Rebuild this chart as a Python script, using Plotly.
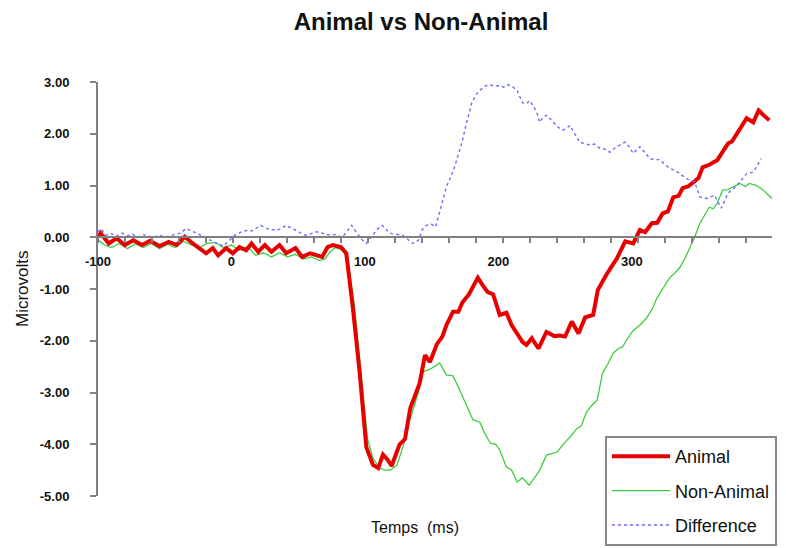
import plotly.graph_objects as go

title_text = "Animal vs Non-Animal"
x_title = "Temps\u00a0 (ms)"
y_title = "Microvolts"

y_tick_vals = [-5, -4, -3, -2, -1, 0, 1, 2, 3]
y_tick_text = ["-5.00", "-4.00", "-3.00", "-2.00", "-1.00", "0.00", "1.00", "2.00", "3.00"]
x_tick_vals = [-100, 0, 100, 200, 300]
x_tick_text = ["-100", "0", "100", "200", "300"]

# (time ms, microvolts)
animal = [(-100, 0.0), (-98, 0.08), (-92, -0.12), (-86, -0.02), (-80, -0.15), (-73.5, -0.06), (-67, -0.15),
          (-61, -0.07), (-54, -0.17), (-47, -0.09), (-41, -0.15), (-35, 0.01), (-29, -0.12), (-24, -0.22),
          (-19, -0.31), (-14, -0.21), (-10, -0.35), (-4, -0.21), (1, -0.31), (6, -0.19), (11, -0.25),
          (15, -0.12), (20, -0.28), (25, -0.15), (30, -0.28), (36, -0.15), (41, -0.31), (48, -0.21),
          (53, -0.38), (59, -0.31), (64, -0.35), (68, -0.38), (72, -0.19), (76, -0.15), (82, -0.19),
          (86, -0.31), (91, -1.37), (96, -2.6), (101, -4.05), (106, -4.4), (110, -4.46), (113.5, -4.2),
          (117, -4.3), (120, -4.42), (126, -4.0), (130, -3.9), (134, -3.3), (141, -2.82), (145, -2.28),
          (148.7, -2.41), (154, -2.06), (158, -1.92), (161, -1.7), (166, -1.44), (170, -1.44), (173, -1.26),
          (178, -1.1), (184.6, -0.78), (188, -0.92), (192, -1.06), (196, -1.1), (201, -1.5), (206, -1.46),
          (210, -1.7), (214, -1.86), (218, -2.02), (221, -2.08), (225, -1.95), (230, -2.15), (236, -1.83),
          (242, -1.91), (246, -1.9), (250, -1.92), (255, -1.63), (260, -1.86), (265, -1.55), (271, -1.5),
          (274.5, -1.02), (281, -0.72), (286, -0.5), (289, -0.4), (295, -0.08), (301, -0.12), (306, 0.14),
          (310, 0.1), (315, 0.27), (319, 0.28), (323, 0.46), (327, 0.5), (331, 0.77), (335, 0.8),
          (338, 0.95), (342, 0.98), (346, 1.06), (350, 1.15), (353, 1.35), (358, 1.4), (364, 1.49),
          (368, 1.65), (372, 1.81), (375, 1.85), (378.6, 2.0), (382, 2.15), (386, 2.3), (391, 2.22),
          (395, 2.45), (399, 2.35), (403, 2.26)]

non_animal = [(-100, -0.05), (-95, -0.15), (-90, -0.2), (-84, -0.12), (-78, -0.22), (-72, -0.13), (-66, -0.2),
              (-60, -0.12), (-54, -0.22), (-48, -0.14), (-42, -0.2), (-36, -0.08), (-30, -0.15), (-24, -0.2),
              (-18, -0.12), (-12, -0.1), (-6, -0.2), (0, -0.15), (6, -0.25), (12, -0.18), (18, -0.35),
              (24, -0.3), (30, -0.38), (36, -0.3), (42, -0.38), (48, -0.33), (54, -0.42), (60, -0.38),
              (66, -0.45), (70, -0.42), (74, -0.28), (78, -0.2), (83, -0.25), (87, -0.4), (92, -1.3),
              (97, -2.6), (102, -3.9), (106, -4.27), (111, -4.46), (115, -4.5), (119, -4.5), (124, -4.4),
              (128.5, -4.05), (134, -3.5), (140, -3.0), (143.5, -2.6), (148.7, -2.55), (152, -2.5),
              (156, -2.43), (161, -2.66), (166, -2.68), (171, -2.95), (176, -3.24), (181, -3.53),
              (186, -3.57), (190, -3.8), (194, -3.98), (198, -4.0), (201, -4.11), (206, -4.44), (210, -4.5),
              (214, -4.73), (218, -4.65), (223, -4.79), (227, -4.65), (231, -4.5), (236, -4.21), (240, -4.18),
              (244, -4.15), (250, -3.96), (254, -3.85), (259, -3.69), (262, -3.65), (266, -3.38), (270, -3.25),
              (274, -3.15), (278, -2.63), (282, -2.45), (286, -2.24), (290, -2.15), (293, -2.12), (296, -1.99),
              (301, -1.8), (306, -1.7), (311, -1.56), (315, -1.4), (318.7, -1.18), (323, -1.0), (328.7, -0.77),
              (332, -0.7), (336, -0.58), (340, -0.4), (343.6, -0.19), (347, 0.0), (351, 0.27), (355, 0.45),
              (358, 0.58), (361, 0.55), (364, 0.66), (368, 0.91), (372, 0.92), (375.6, 0.97), (381, 1.04),
              (385, 0.98), (388, 1.04), (393.6, 1.0), (398, 0.92), (405, 0.75)]

difference = [(-100, 0.1), (-98, 0.17), (-94, 0.04), (-90, 0.07), (-86, 0.02), (-82, 0.08), (-78, 0.03),
              (-74, 0.06), (-70, 0.0), (-66, 0.05), (-62, 0.02), (-58, 0.0), (-54, 0.04), (-50, 0.0),
              (-46, 0.03), (-42, 0.05), (-38, 0.08), (-34, 0.17), (-30, 0.13), (-28, 0.1), (-24, 0.05),
              (-19, -0.02), (-15, -0.08), (-11, -0.12), (-6, -0.17), (-1, -0.05), (3, 0.05), (7, 0.1),
              (11, 0.13), (15, 0.12), (19, 0.18), (22, 0.23), (26, 0.17), (30, 0.15), (34, 0.13), (38, 0.18),
              (41, 0.23), (45, 0.17), (49, 0.13), (53, 0.06), (56, 0.04), (60, 0.07), (63, 0.1), (66, 0.1),
              (70, 0.06), (74, 0.04), (78, 0.05), (83, 0.0), (87, 0.12), (90, 0.23), (94, 0.08), (98, -0.05),
              (101, -0.12), (105, 0.02), (109, 0.15), (113, 0.23), (117, 0.12), (120, 0.07), (124, 0.06),
              (128, 0.04), (132, -0.04), (136, -0.12), (140, -0.06), (143, 0.15), (146, 0.23), (150, 0.25),
              (153, 0.2), (155, 0.4), (158, 0.7), (161, 0.97), (164, 1.15), (167, 1.35), (170, 1.6),
              (172.5, 1.81), (176, 2.2), (180, 2.59), (183, 2.75), (186, 2.84), (190, 2.92), (193.6, 2.95),
              (197, 2.92), (201, 2.93), (204, 2.9), (207, 2.95), (211, 2.9), (214, 2.84), (218, 2.6),
              (221, 2.58), (223.6, 2.64), (227, 2.5), (229, 2.39), (231, 2.22), (233, 2.3), (236, 2.36),
              (239, 2.28), (242, 2.2), (245, 2.12), (248, 2.07), (251, 2.1), (253.6, 2.16), (257, 2.0),
              (261, 1.83), (264, 1.82), (268.5, 1.78), (272, 1.8), (276, 1.72), (280, 1.7), (283.5, 1.64),
              (287, 1.72), (291, 1.78), (294.8, 1.84), (298, 1.75), (301, 1.62), (306, 1.75), (310, 1.62),
              (313.6, 1.52), (317, 1.5), (321, 1.5), (325, 1.4), (328.6, 1.33), (333, 1.28), (338, 1.2),
              (342, 1.12), (347, 1.07), (351, 0.78), (356, 0.75), (362, 0.81), (367, 0.56), (372, 0.85),
              (378, 0.98), (382, 1.1), (386, 1.23), (391, 1.26), (394, 1.4), (397, 1.52)]

FONT = "Liberation Sans, Arial, sans-serif"
AXIS_GREY = "#808080"

def xs(series):
    return [p[0] for p in series]

def ys(series):
    return [p[1] for p in series]

fig = go.Figure()
fig.add_trace(go.Scatter(x=xs(non_animal), y=ys(non_animal), mode="lines", name="Non-Animal",
                         line=dict(color="#3fcc3f", width=1.3), legendrank=2, legendgroup="b"))
fig.add_trace(go.Scatter(x=xs(animal), y=ys(animal), mode="lines", name="Animal",
                         line=dict(color="#e80000", width=4), legendrank=1, legendgroup="a"))
fig.add_trace(go.Scatter(x=xs(difference), y=ys(difference), mode="lines", name="Difference",
                         line=dict(color="#6b6bff", width=1.4, dash="dot"), legendrank=3, legendgroup="c"))

fig.update_layout(
    width=786, height=548,
    margin=dict(l=90, r=22, t=74, b=60, autoexpand=False),
    paper_bgcolor="white", plot_bgcolor="white",
    title=dict(text="<b>" + title_text + "</b>", x=413 / 786, xanchor="center", xref="container",
               y=1 - 14 / 548, yanchor="middle", yref="container",
               font=dict(family=FONT, size=24, color="#111")),
    xaxis=dict(range=[-100, 405], anchor="free", position=0.625, showline=True, linecolor=AXIS_GREY,
               linewidth=2, showgrid=False, zeroline=False, tickmode="array", tickvals=x_tick_vals,
               ticktext=x_tick_text, ticks="", ticklabelstandoff=12,
               tickfont=dict(family=FONT, size=13, color="#111", weight="bold"),
               minor=dict(ticks="outside", tickmode="linear", tick0=-100, dtick=20.22, ticklen=5,
                          tickwidth=1.5, tickcolor=AXIS_GREY, showgrid=False)),
    yaxis=dict(range=[-5, 3], showline=True, linecolor=AXIS_GREY, linewidth=2, showgrid=False,
               zeroline=False, tickmode="array", tickvals=y_tick_vals, ticktext=y_tick_text,
               ticks="outside", ticklen=6, tickwidth=1.5, tickcolor=AXIS_GREY, ticklabelstandoff=18,
               tickfont=dict(family=FONT, size=13, color="#111", weight="bold")),
    legend=dict(x=(605 - 98) / 674, y=(496 - 436) / 414, xanchor="left", yanchor="top",
                bgcolor="white", bordercolor="#888888", borderwidth=2, tracegroupgap=8, itemwidth=58,
                font=dict(family=FONT, size=18, color="#111"), entrywidth=240, entrywidthmode="pixels"),
    showlegend=True,
    annotations=[
        dict(text=y_title, xref="paper", yref="paper", x=(22 - 98) / 674, y=0.5, textangle=-90,
             showarrow=False, xanchor="center", yanchor="middle", font=dict(family=FONT, size=17, color="#111")),
        dict(text=x_title, xref="paper", yref="paper", x=(415 - 98) / 674, y=(496 - 527) / 414,
             showarrow=False, xanchor="center", yanchor="middle", font=dict(family=FONT, size=16, color="#111")),
    ],
)

fig.write_html("out.html")
